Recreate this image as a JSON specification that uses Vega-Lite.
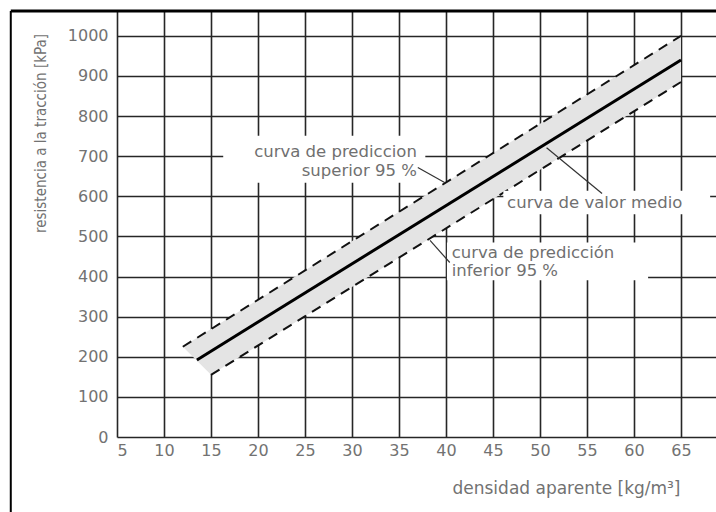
{
  "$schema": "https://vega.github.io/schema/vega-lite/v6.json",
  "width": 600,
  "height": 426,
  "autosize": {"type": "none"},
  "padding": {"left": 117, "top": 11, "right": 0, "bottom": 75},
  "background": "white",
  "config": {
    "view": {"stroke": null},
    "font": "DejaVu Sans",
    "axis": {
      "gridColor": "#262626",
      "gridWidth": 1.6,
      "gridOpacity": 1,
      "domain": false,
      "ticks": false,
      "labelColor": "#727272",
      "labelFont": "DejaVu Sans",
      "labelFontSize": 16,
      "titleColor": "#727272",
      "titleFontWeight": "normal"
    }
  },
  "datasets": {
    "band": [
      {"x": 12, "lo": 225, "hi": 225},
      {"x": 15, "lo": 155, "hi": 269},
      {"x": 65, "lo": 885, "hi": 1000}
    ],
    "curves": [
      {"serie": "superior", "x": 12, "y": 225},
      {"serie": "superior", "x": 65, "y": 1000},
      {"serie": "inferior", "x": 15, "y": 155},
      {"serie": "inferior", "x": 65, "y": 885}
    ],
    "mean": [
      {"x": 13.5, "y": 192},
      {"x": 65, "y": 940}
    ],
    "boxes": [
      {"x": 16.3, "x2": 37.8, "y": 634, "y2": 751},
      {"x": 46.1, "x2": 68.1, "y": 555, "y2": 614},
      {"x": 40.1, "x2": 61.5, "y": 391, "y2": 485}
    ],
    "leaders": [
      {"x": 37.0, "y": 672, "x2": 39.9, "y2": 634},
      {"x": 50.7, "y": 721, "x2": 56.6, "y2": 607},
      {"x": 38.3, "y": 490, "x2": 40.4, "y2": 435}
    ],
    "labelsRight": [
      {"x": 36.9, "y": 710, "text": "curva de prediccion"},
      {"x": 36.9, "y": 664, "text": "superior 95 %"}
    ],
    "labelsLeft": [
      {"x": 46.5, "y": 583, "text": "curva de valor medio"},
      {"x": 40.6, "y": 458, "text": "curva de predicción"},
      {"x": 40.6, "y": 415, "text": "inferior 95 %"}
    ],
    "frame": [{}]
  },
  "encoding": {
    "x": {
      "type": "quantitative",
      "scale": {"domain": [5, 68.83], "nice": false, "zero": false},
      "axis": {
        "values": [5, 10, 15, 20, 25, 30, 35, 40, 45, 50, 55, 60, 65],
        "labelPadding": 5,
        "title": "densidad aparente [kg/m³]",
        "titleFont": "DejaVu Sans",
        "titleFontSize": 17,
        "titleX": 563,
        "titleY": 51,
        "titleAlign": "right",
        "titleBaseline": "middle"
      }
    },
    "y": {
      "type": "quantitative",
      "scale": {"domain": [0, 1062], "nice": false, "zero": false},
      "axis": {
        "values": [0, 100, 200, 300, 400, 500, 600, 700, 800, 900, 1000],
        "format": "d",
        "labelPadding": 9,
        "title": "resistencia a la tracción [kPa]",
        "titleFont": "DejaVu Sans Condensed",
        "titleFontSize": 15,
        "titleX": -77,
        "titleY": 122,
        "titleAlign": "center",
        "titleBaseline": "middle",
        "titleAngle": -90
      }
    }
  },
  "layer": [
    {
      "data": {"name": "band"},
      "mark": {"type": "area", "color": "#e4e4e4", "opacity": 1},
      "encoding": {
        "x": {"field": "x", "type": "quantitative"},
        "y": {"field": "lo", "type": "quantitative"},
        "y2": {"field": "hi"}
      }
    },
    {
      "data": {"name": "curves"},
      "mark": {"type": "line", "color": "#111111", "strokeWidth": 2, "strokeDash": [10, 7]},
      "encoding": {
        "x": {"field": "x", "type": "quantitative"},
        "y": {"field": "y", "type": "quantitative"},
        "detail": {"field": "serie"}
      }
    },
    {
      "data": {"name": "mean"},
      "mark": {"type": "line", "color": "#000000", "strokeWidth": 3},
      "encoding": {
        "x": {"field": "x", "type": "quantitative"},
        "y": {"field": "y", "type": "quantitative"}
      }
    },
    {
      "data": {"name": "boxes"},
      "mark": {"type": "rect", "color": "white"},
      "encoding": {
        "x": {"field": "x", "type": "quantitative"},
        "x2": {"field": "x2"},
        "y": {"field": "y", "type": "quantitative"},
        "y2": {"field": "y2"}
      }
    },
    {
      "data": {"name": "leaders"},
      "mark": {"type": "rule", "color": "#333333", "strokeWidth": 1.2},
      "encoding": {
        "x": {"field": "x", "type": "quantitative"},
        "y": {"field": "y", "type": "quantitative"},
        "x2": {"field": "x2"},
        "y2": {"field": "y2"}
      }
    },
    {
      "data": {"name": "labelsRight"},
      "mark": {"type": "text", "align": "right", "baseline": "middle", "fontSize": 16.5, "color": "#707070", "font": "DejaVu Sans"},
      "encoding": {
        "x": {"field": "x", "type": "quantitative"},
        "y": {"field": "y", "type": "quantitative"},
        "text": {"field": "text"}
      }
    },
    {
      "data": {"name": "labelsLeft"},
      "mark": {"type": "text", "align": "left", "baseline": "middle", "fontSize": 16.5, "color": "#707070", "font": "DejaVu Sans"},
      "encoding": {
        "x": {"field": "x", "type": "quantitative"},
        "y": {"field": "y", "type": "quantitative"},
        "text": {"field": "text"}
      }
    },
    {
      "data": {"name": "frame"},
      "mark": {"type": "rule", "color": "#000000", "strokeWidth": 3, "clip": false},
      "encoding": {
        "y": {"datum": 1062, "type": "quantitative"},
        "x": {"datum": -6.3, "type": "quantitative"},
        "x2": {"datum": 68.83}
      }
    },
    {
      "data": {"name": "frame"},
      "mark": {"type": "rule", "color": "#000000", "strokeWidth": 2, "clip": false},
      "encoding": {
        "x": {"datum": -6.3, "type": "quantitative"},
        "y": {"datum": 1062, "type": "quantitative"},
        "y2": {"datum": -190}
      }
    }
  ]
}
